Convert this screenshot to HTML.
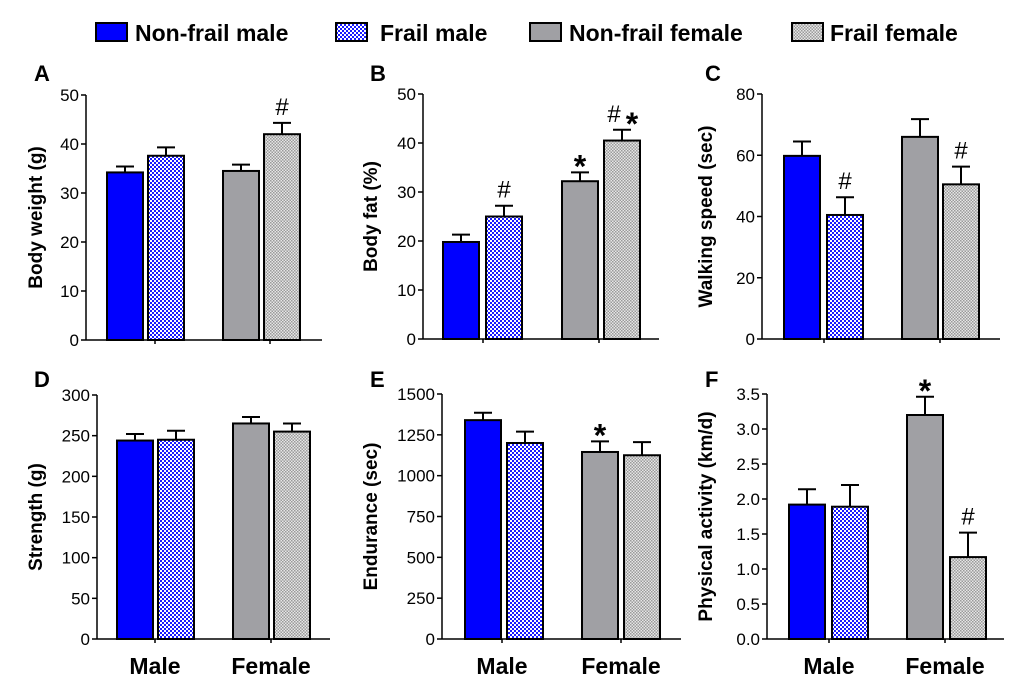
<!DOCTYPE html>
<html><head><meta charset="utf-8"><style>
body{margin:0;background:#fff}
svg{display:block;font-family:"Liberation Sans",Arial,sans-serif}
</style></head><body>
<svg id="c" width="1020" height="697" viewBox="0 0 1020 697">
<defs>
<pattern id="pb" width="4" height="4" patternUnits="userSpaceOnUse"><rect width="4" height="4" fill="#fff"/><rect width="2" height="2" fill="#1a1aff"/><rect x="2" y="2" width="2" height="2" fill="#1a1aff"/></pattern>
<pattern id="pg" width="3" height="3" patternUnits="userSpaceOnUse"><rect width="3" height="3" fill="#e6e6e6"/><rect width="1.5" height="1.5" fill="#9a9a9a"/><rect x="1.5" y="1.5" width="1.5" height="1.5" fill="#9a9a9a"/></pattern>
</defs>
<g id="legend"></g>
<g id="panels"></g>
</svg>
<script>
const categories=["Male","Female"];
const seriesNames=["Non-frail male","Frail male","Non-frail female","Frail female"];
const valsA=[34.2,37.6,34.5,42.0], errA=[1.2,1.7,1.3,2.3], markA=["","","","#"];
const valsB=[19.8,25.0,32.2,40.5], errB=[1.5,2.2,1.8,2.2], markB=["","#","*","#*"];
const valsC=[59.8,40.5,66.0,50.5], errC=[4.7,5.8,5.8,5.8], markC=["","#","","#"];
const valsD=[244,245,265,255], errD=[8,11,8,10], markD=["","","",""];
const valsE=[1340,1200,1145,1125], errE=[45,70,65,80], markE=["","","*",""];
const valsF=[1.92,1.89,3.20,1.17], errF=[0.22,0.31,0.26,0.35], markF=["","","*","#"];
const ticksA=[0,10,20,30,40,50], ticksB=[0,10,20,30,40,50], ticksC=[0,20,40,60,80];
const ticksD=[0,50,100,150,200,250,300], ticksE=[0,250,500,750,1000,1250,1500];
const ticksF=["0.0","0.5","1.0","1.5","2.0","2.5","3.0","3.5"];

const fills=["#0000ff","url(#pb)","#a0a0a4","url(#pg)"];
const NS="http://www.w3.org/2000/svg";
function mk(tag,attrs,parent){const e=document.createElementNS(NS,tag);for(const k in attrs)e.setAttribute(k,attrs[k]);parent.appendChild(e);return e;}

const lg=document.getElementById('legend');
const lx=[96,336,530,792];
const ltx=[135,380,569,830];
seriesNames.forEach((n,i)=>{
  const r=mk('rect',{x:lx[i],y:23,width:31,height:18,fill:fills[i],stroke:'#000','stroke-width':2},lg);
  
  
  const t=mk('text',{x:ltx[i],y:41,'font-size':23,'font-weight':'bold'},lg);
  t.textContent=n;
  
  
});

const panels=[
 {id:'A',title:'Body weight (g)',v:valsA,e:errA,m:markA,t:ticksA,ax:86,x1:322,bx:[107,148,223,264],ct:[155,270],top:95,bot:340,tx:42,lx:34,ly:81,cat:false},
 {id:'B',title:'Body fat (%)',v:valsB,e:errB,m:markB,t:ticksB,ax:423,x1:659,bx:[443,486,562,604],ct:[483,599],top:94,bot:339,tx:377,lx:370,ly:81,cat:false},
 {id:'C',title:'Walking speed (sec)',v:valsC,e:errC,m:markC,t:ticksC,ax:762,x1:1000,bx:[784,827,902,943],ct:[824,940],top:94,bot:339,tx:712,lx:705,ly:81,cat:false},
 {id:'D',title:'Strength (g)',v:valsD,e:errD,m:markD,t:ticksD,ax:97,x1:330,bx:[117,158,233,274],ct:[155,271],top:395,bot:639,tx:42,lx:34,ly:387,cat:true},
 {id:'E',title:'Endurance (sec)',v:valsE,e:errE,m:markE,t:ticksE,ax:442,x1:681,bx:[465,507,582,624],ct:[502,621],top:394,bot:639,tx:377,lx:370,ly:387,cat:true},
 {id:'F',title:'Physical activity (km/d)',v:valsF,e:errF,m:markF,t:ticksF,ax:767,x1:1004,bx:[789,832,907,950],ct:[829,945],top:394,bot:639,tx:712,lx:705,ly:387,cat:true}
];
const BW=36;
const pg=document.getElementById('panels');
panels.forEach(p=>{
  const g=mk('g',{},pg);
  
  
  const tn=p.t.map(Number);
  const lo=tn[0],hi=tn[tn.length-1];
  const y=v=>p.bot-(v-lo)/(hi-lo)*(p.bot-p.top);
  const lab=mk('text',{x:p.lx,y:p.ly,'font-size':22,'font-weight':'bold'},g);lab.textContent=p.id;
  
  
  const cy=(p.top+p.bot)/2;
  const yt=mk('text',{x:p.tx,y:cy,'font-size':19,'font-weight':'bold','text-anchor':'middle',transform:`rotate(-90 ${p.tx} ${cy})`},g);
  yt.textContent=p.title;
  
  
  p.v.forEach((v,i)=>{
    const x=p.bx[i],yv=y(v),ye=y(v+p.e[i]);
    const ln=mk('line',{x1:x+BW/2,x2:x+BW/2,y1:yv,y2:ye,stroke:'#000','stroke-width':2},g);
    
    
    const cap=mk('line',{x1:x+BW/2-9,x2:x+BW/2+9,y1:ye,y2:ye,stroke:'#000','stroke-width':2},g);
    
    
    const r=mk('rect',{x:x,y:yv,width:BW,height:p.bot-yv,fill:fills[i],stroke:'#000','stroke-width':2},g);
    
    
    if(p.m[i]){
      const s=p.m[i];
      if(s==="#*"){
        const a=mk('text',{x:x+BW/2-8,y:ye-8,'font-size':24,'text-anchor':'middle'},g);a.textContent='#';
        
        
        const b=mk('text',{x:x+BW/2+10,y:ye+5,'font-size':32,'font-weight':'bold','text-anchor':'middle'},g);b.textContent='*';
        
        
      } else if(s==="*"){
        const b=mk('text',{x:x+BW/2,y:ye+5,'font-size':32,'font-weight':'bold','text-anchor':'middle'},g);b.textContent='*';
        
        
      } else {
        const a=mk('text',{x:x+BW/2,y:ye-8,'font-size':24,'text-anchor':'middle'},g);a.textContent='#';
        
        
      }
    }
  });
  const ya=mk('line',{x1:p.ax,x2:p.ax,y1:p.top,y2:p.bot,stroke:'#000','stroke-width':1.5},g);
  
  
  const xa=mk('line',{x1:p.ax,x2:p.x1,y1:p.bot,y2:p.bot,stroke:'#000','stroke-width':1.5},g);
  
  
  p.t.forEach(t=>{
    const yy=y(Number(t));
    const tk=mk('line',{x1:p.ax-5,x2:p.ax,y1:yy,y2:yy,stroke:'#000','stroke-width':1.5},g);
    
    
    const tl=mk('text',{x:p.ax-7,y:yy+6,'font-size':17,'text-anchor':'end'},g);tl.textContent=t;
    
    
  });
  categories.forEach((c,i)=>{
    const tk=mk('line',{x1:p.ct[i],x2:p.ct[i],y1:p.bot,y2:p.bot+4,stroke:'#000','stroke-width':1.5},g);
    
    
    if(p.cat){
      const cl=mk('text',{x:p.ct[i],y:674,'font-size':23,'font-weight':'bold','text-anchor':'middle'},g);cl.textContent=c;
      
      
    }
  });
});
</script>
</body></html>
